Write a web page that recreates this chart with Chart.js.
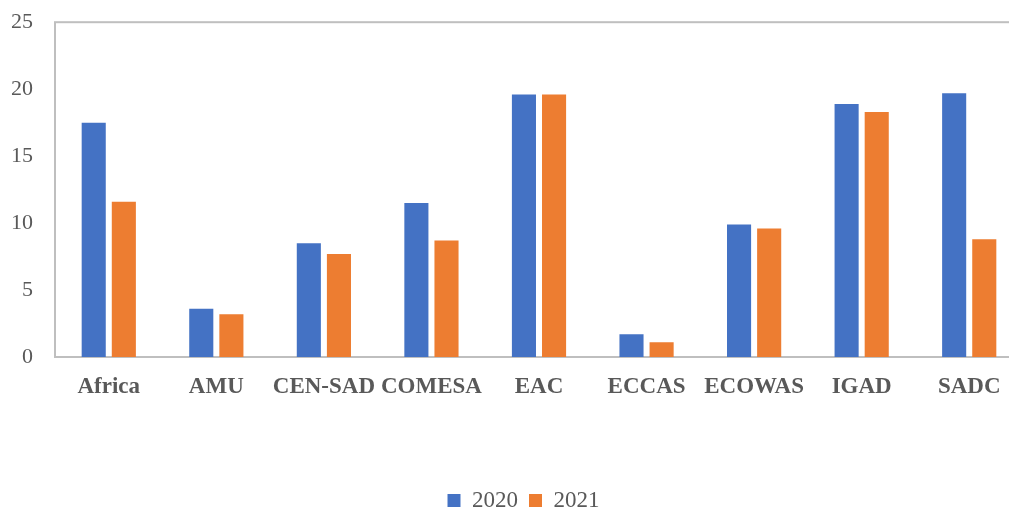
<!DOCTYPE html>
<html>
<head>
<meta charset="utf-8">
<script src="https://cdn.jsdelivr.net/npm/chart.js@4/dist/chart.umd.min.js"></script>
<style>
  html, body { margin: 0; padding: 0; background: #fff; overflow: hidden; }
  /* plot area runs slightly past the right/top edge, as in the original */
  #wrap { width: 1023px; height: 517px; margin-top: -5px; position: relative; }
</style>
</head>
<body>
<div id="wrap"><canvas id="chart"></canvas></div>
<script>
const categories = ['Africa', 'AMU', 'CEN-SAD', 'COMESA', 'EAC', 'ECCAS', 'ECOWAS', 'IGAD', 'SADC'];
const values2020 = [17.5, 3.6, 8.5, 11.5, 19.6, 1.7, 9.9, 18.9, 19.7];
const values2021 = [11.6, 3.2, 7.7, 8.7, 19.6, 1.1, 9.6, 18.3, 8.8];
const yTicks = [0, 5, 10, 15, 20, 25];

const serif = '"Liberation Serif", "Times New Roman", serif';

// plot frame (top + left + bottom lines, like the original)
const frame = {
    id: 'frame',
    beforeDatasetsDraw(chart) {
        const { ctx, chartArea: a } = chart;
        ctx.save();
        ctx.strokeStyle = '#BFBFBF';
        ctx.lineWidth = 2;
        ctx.strokeRect(a.left, a.top, a.right - a.left + 10, a.bottom - a.top);
        ctx.restore();
    }
};

// nudge the legend a bit right/down like in the original
const legendShift = {
    id: 'legendShift',
    afterLayout(chart) {
        const lg = chart.legend;
        if (!lg) return;
        lg.left += 12; lg.right += 12;
        lg.top += 14; lg.bottom += 14;
    }
};

new Chart(document.getElementById('chart'), {
    type: 'bar',
    data: {
        labels: categories,
        datasets: [
            { label: '2020', data: values2020, backgroundColor: '#4472C4' },
            { label: '2021', data: values2021, backgroundColor: '#ED7D31' }
        ]
    },
    options: {
        responsive: true,
        maintainAspectRatio: false,
        animation: false,
        layout: { padding: { top: 0, right: 0, left: 0, bottom: 4 } },
        datasets: { bar: { categoryPercentage: 0.56, barPercentage: 0.8 } },
        scales: {
            x: {
                grid: { display: false },
                border: { display: false },
                ticks: {
                    color: '#595959',
                    padding: 8,
                    maxRotation: 0,
                    autoSkip: false,
                    font: { family: serif, size: 23, weight: 'bold' }
                },
                afterFit: (s) => { s.height = 107; }
            },
            y: {
                min: 0,
                max: 25,
                afterBuildTicks: (s) => { s.ticks = yTicks.map(v => ({ value: v })); },
                grid: { display: false },
                border: { display: false },
                ticks: {
                    color: '#595959',
                    padding: 14,
                    font: { family: serif, size: 22 }
                },
                afterFit: (s) => { s.width = 55; }
            }
        },
        plugins: {
            legend: {
                position: 'bottom',
                labels: {
                    color: '#595959',
                    boxWidth: 13,
                    boxHeight: 13,
                    padding: 11,
                    font: { family: serif, size: 23 }
                }
            },
            tooltip: { enabled: false }
        }
    },
    plugins: [frame, legendShift]
});
</script>
</body>
</html>
